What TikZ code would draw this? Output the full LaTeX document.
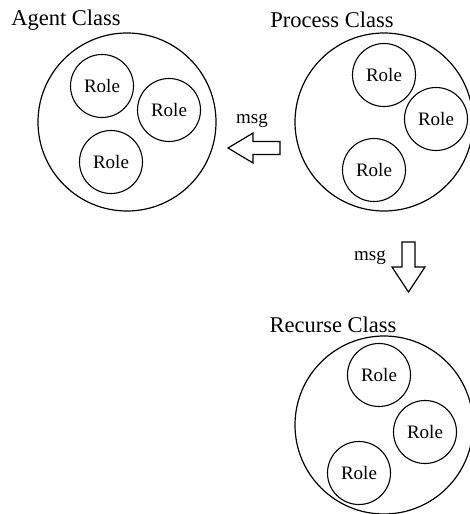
\documentclass[tikz,border=0pt]{standalone}
\usepackage{fontspec}
\setmainfont{Liberation Serif}
\begin{document}
\begin{tikzpicture}[x=1pt,y=-1pt,
  classcirc/.style={draw, circle, line width=1.2pt, minimum size=178pt, inner sep=0pt},
  rolecirc/.style={draw, circle, line width=1.1pt, minimum size=63pt, inner sep=0pt, font=\fontsize{19}{19}\selectfont},
  title/.style={font=\fontsize{22.5}{22.5}\selectfont, inner sep=0pt},
  msglabel/.style={font=\fontsize{19}{19}\selectfont, inner sep=0pt},
  blockarrow/.style={draw, line width=1.2pt, line join=miter, fill=white}]
\useasboundingbox (0,0) rectangle (470,514);

% Agent class
\node[title] (agentT) at (66,20) {Agent Class};
\node[classcirc] (agent) at (127,122) {};
\node[rolecirc] (a1) at (102,86) {Role};
\node[rolecirc] (a2) at (169,110) {Role};
\node[rolecirc] (a3) at (111,162) {Role};

% Process class
\node[title] (procT) at (332,20) {Process Class};
\node[classcirc] (proc) at (384,122) {};
\node[rolecirc] (p1) at (384,75) {Role};
\node[rolecirc] (p2) at (436,119) {Role};
\node[rolecirc] (p3) at (374,170) {Role};

% Recurse class
\node[title] (recT) at (333,325) {Recurse Class};
\node[classcirc] (rec) at (384,425) {};
\node[rolecirc] (r1) at (379,375) {Role};
\node[rolecirc] (r2) at (425,432) {Role};
\node[rolecirc] (r3) at (359,473) {Role};

% message from Process to Agent
\draw[blockarrow] (280,141.5) -- (253,141.5) -- (253,133) -- (228,148)
  -- (253,163) -- (253,154.5) -- (280,154.5) -- cycle;
\node[msglabel] (msg1) at (252,121) {msg};

% message from Process to Recurse
\draw[blockarrow] (402,242) -- (402,267) -- (392,267) -- (408.5,292)
  -- (425,267) -- (415,267) -- (415,242) -- cycle;
\node[msglabel] (msg2) at (370,258) {msg};
\end{tikzpicture}
\end{document}
